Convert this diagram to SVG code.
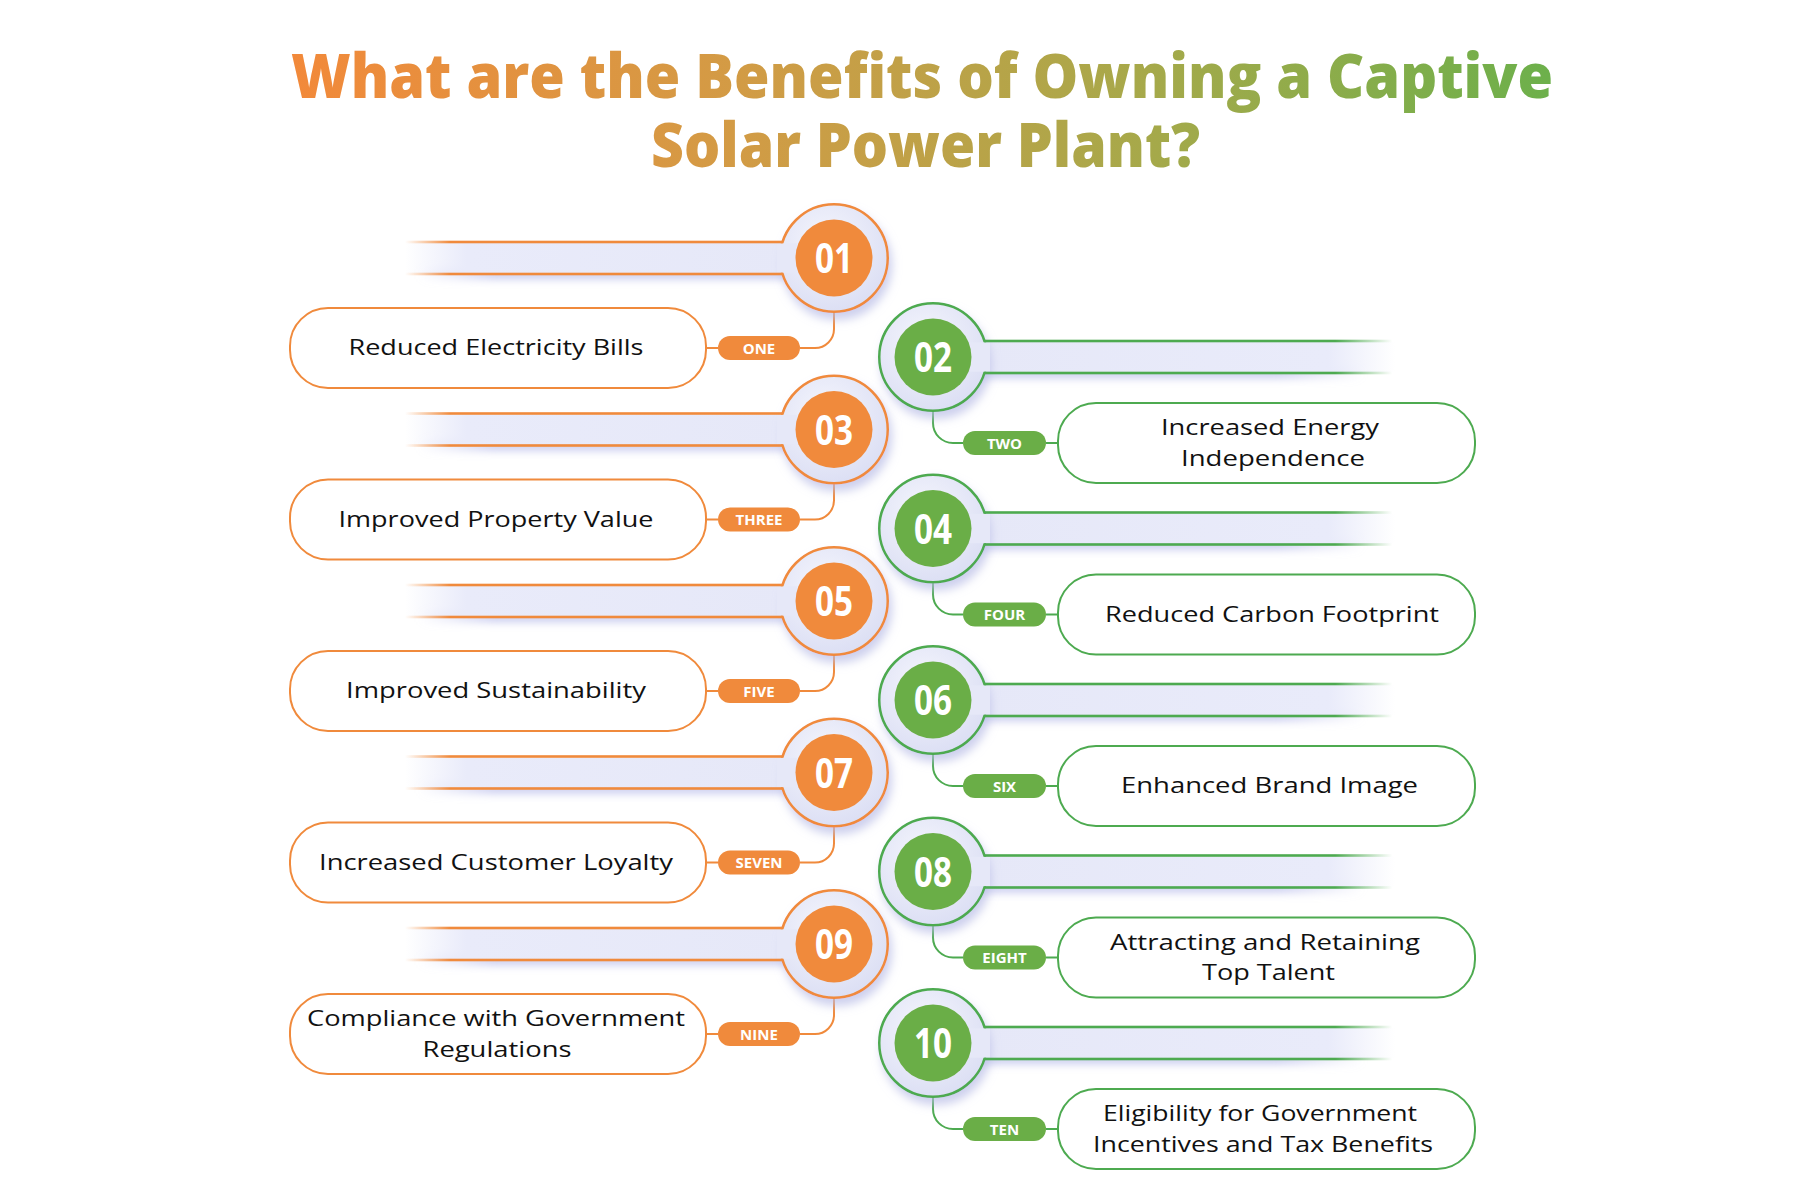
<svg xmlns="http://www.w3.org/2000/svg" width="1800" height="1200" viewBox="0 0 1800 1200">
<defs>
  <linearGradient id="titleGrad" gradientUnits="userSpaceOnUse" x1="291" y1="0" x2="1553" y2="0">
    <stop offset="0" stop-color="#F2893A"/>
    <stop offset="0.35" stop-color="#D39B45"/>
    <stop offset="0.68" stop-color="#A6A94A"/>
    <stop offset="1" stop-color="#6CB04B"/>
  </linearGradient>
  <linearGradient id="barFillL" x1="0" y1="0" x2="1" y2="0">
    <stop offset="0" stop-color="#E9EBFA" stop-opacity="0"/>
    <stop offset="0.16" stop-color="#E9EBFA" stop-opacity="1"/>
    <stop offset="1" stop-color="#E6E8F8"/>
  </linearGradient>
  <linearGradient id="barFillR" x1="1" y1="0" x2="0" y2="0">
    <stop offset="0" stop-color="#E9EBFA" stop-opacity="0"/>
    <stop offset="0.16" stop-color="#E9EBFA" stop-opacity="1"/>
    <stop offset="1" stop-color="#E6E8F8"/>
  </linearGradient>
  <linearGradient id="lineO" x1="0" y1="0" x2="1" y2="0">
    <stop offset="0" stop-color="#F08A3C" stop-opacity="0"/>
    <stop offset="0.12" stop-color="#F08A3C" stop-opacity="1"/>
  </linearGradient>
  <linearGradient id="lineG" x1="1" y1="0" x2="0" y2="0">
    <stop offset="0" stop-color="#4DAA50" stop-opacity="0"/>
    <stop offset="0.14" stop-color="#4DAA50" stop-opacity="1"/>
  </linearGradient>
  <linearGradient id="shadL" x1="0" y1="0" x2="1" y2="0">
    <stop offset="0" stop-color="#C3C6EE" stop-opacity="0"/>
    <stop offset="0.2" stop-color="#C3C6EE" stop-opacity="0.9"/>
  </linearGradient>
  <linearGradient id="shadR" x1="1" y1="0" x2="0" y2="0">
    <stop offset="0" stop-color="#C3C6EE" stop-opacity="0"/>
    <stop offset="0.2" stop-color="#C3C6EE" stop-opacity="0.9"/>
  </linearGradient>
  <radialGradient id="ringFill" cx="0.42" cy="0.36" r="0.65">
    <stop offset="0" stop-color="#F5F6FD"/>
    <stop offset="1" stop-color="#DCDFF4"/>
  </radialGradient>
  <filter id="blur" x="-20%" y="-200%" width="140%" height="500%">
    <feGaussianBlur stdDeviation="4"/>
  </filter>
  <filter id="ringShadow" x="-40%" y="-40%" width="180%" height="180%">
    <feDropShadow dx="3" dy="7" stdDeviation="5" flood-color="#B8BCE6" flood-opacity="0.7"/>
  </filter>
</defs>
<style>
  .title { font-family: "Open Sans", "Noto Sans", sans-serif; font-weight: 800; font-size: 62px; fill: url(#titleGrad); }
  .lbl { font-family: "Open Sans", "Noto Sans", sans-serif; font-size: 22px; fill: #111111; text-anchor: middle; }
  .num { font-family: "Open Sans", "Noto Sans", sans-serif; font-weight: 700; font-size: 41px; fill: #FFFFFF; text-anchor: middle; }
  .tagt { font-family: "Open Sans", "Noto Sans", sans-serif; font-weight: 700; font-size: 15px; fill: #FFFFFF; text-anchor: middle; }
  .ringO { fill: url(#ringFill); stroke: #F08A3C; stroke-width: 2.5; }
  .ringG { fill: url(#ringFill); stroke: #4DAA50; stroke-width: 2.5; }
  .innerO { fill: #F08A3C; }
  .innerG { fill: #6AAE47; }
  .boxO { fill: #FFFFFF; stroke: #F08A3C; stroke-width: 2; }
  .boxG { fill: #FFFFFF; stroke: #4DAA50; stroke-width: 2; }
  .tagO { fill: #F08A3C; }
  .tagG { fill: #6AAE47; }
  .patch { fill: #E6E8F8; }
  .conO { fill: none; stroke: #F08A3C; stroke-width: 2; }
  .conG { fill: none; stroke: #4DAA50; stroke-width: 2; }
</style>
<rect x="0" y="0" width="1800" height="1200" fill="#FFFFFF"/>

<g id="title">
  <text class="title" x="291" y="98" textLength="1262" lengthAdjust="spacingAndGlyphs">What are the Benefits of Owning a Captive</text>
  <text class="title" x="651" y="167" textLength="549" lengthAdjust="spacingAndGlyphs">Solar Power Plant?</text>
</g>

<!-- connectors -->
<g id="connectors">
  <path class="conO" d="M706,348 H718 M800,348 H815 A19,19 0 0 0 834,329 V312"/>
  <path class="conO" d="M706,519.5 H718 M800,519.5 H815 A19,19 0 0 0 834,500.5 V483.5"/>
  <path class="conO" d="M706,691 H718 M800,691 H815 A19,19 0 0 0 834,672 V655"/>
  <path class="conO" d="M706,862.5 H718 M800,862.5 H815 A19,19 0 0 0 834,843.5 V826.5"/>
  <path class="conO" d="M706,1034 H718 M800,1034 H815 A19,19 0 0 0 834,1015 V998"/>
  <path class="conG" d="M933,411 V423 A20,20 0 0 0 953,443 H963 M1046,443 H1058"/>
  <path class="conG" d="M933,582.5 V594.5 A20,20 0 0 0 953,614.5 H963 M1046,614.5 H1058"/>
  <path class="conG" d="M933,754 V766 A20,20 0 0 0 953,786 H963 M1046,786 H1058"/>
  <path class="conG" d="M933,925.5 V937.5 A20,20 0 0 0 953,957.5 H963 M1046,957.5 H1058"/>
  <path class="conG" d="M933,1097 V1109 A20,20 0 0 0 953,1129 H963 M1046,1129 H1058"/>
</g>

<!-- Left nodes -->
<g id="node-01">
  <rect x="420" y="269" width="370" height="10" fill="url(#shadL)" filter="url(#blur)"/>
  <rect x="405" y="243" width="385" height="30" fill="url(#barFillL)"/>
  <circle class="ringO" cx="834" cy="258" r="53.75" filter="url(#ringShadow)"/>
  <rect class="patch" x="777" y="243.3" width="20" height="29.4"/>
  <rect x="405" y="240.7" width="377.7" height="2.6" fill="url(#lineO)"/>
  <rect x="405" y="272.7" width="377.7" height="2.6" fill="url(#lineO)"/>
  <circle class="innerO" cx="834" cy="258" r="38.5"/>
  <text class="num" x="834" y="273" textLength="38" lengthAdjust="spacingAndGlyphs">01</text>
  <rect class="boxO" x="290" y="308" width="416" height="80" rx="38"/>
  <text class="lbl" x="496" y="355" textLength="295" lengthAdjust="spacingAndGlyphs">Reduced Electricity Bills</text>
  <rect class="tagO" x="718" y="336" width="82" height="24" rx="12"/>
  <text class="tagt" x="759" y="353.5">ONE</text>
</g>

<g id="node-03">
  <rect x="420" y="440.5" width="370" height="10" fill="url(#shadL)" filter="url(#blur)"/>
  <rect x="405" y="414.5" width="385" height="30" fill="url(#barFillL)"/>
  <circle class="ringO" cx="834" cy="429.5" r="53.75" filter="url(#ringShadow)"/>
  <rect class="patch" x="777" y="414.8" width="20" height="29.4"/>
  <rect x="405" y="412.2" width="377.7" height="2.6" fill="url(#lineO)"/>
  <rect x="405" y="444.2" width="377.7" height="2.6" fill="url(#lineO)"/>
  <circle class="innerO" cx="834" cy="429.5" r="38.5"/>
  <text class="num" x="834" y="444.5" textLength="38" lengthAdjust="spacingAndGlyphs">03</text>
  <rect class="boxO" x="290" y="479.5" width="416" height="80" rx="38"/>
  <text class="lbl" x="496" y="526.5" textLength="315" lengthAdjust="spacingAndGlyphs">Improved Property Value</text>
  <rect class="tagO" x="718" y="507.5" width="82" height="24" rx="12"/>
  <text class="tagt" x="759" y="525">THREE</text>
</g>

<g id="node-05">
  <rect x="420" y="612" width="370" height="10" fill="url(#shadL)" filter="url(#blur)"/>
  <rect x="405" y="586" width="385" height="30" fill="url(#barFillL)"/>
  <circle class="ringO" cx="834" cy="601" r="53.75" filter="url(#ringShadow)"/>
  <rect class="patch" x="777" y="586.3" width="20" height="29.4"/>
  <rect x="405" y="583.7" width="377.7" height="2.6" fill="url(#lineO)"/>
  <rect x="405" y="615.7" width="377.7" height="2.6" fill="url(#lineO)"/>
  <circle class="innerO" cx="834" cy="601" r="38.5"/>
  <text class="num" x="834" y="616" textLength="38" lengthAdjust="spacingAndGlyphs">05</text>
  <rect class="boxO" x="290" y="651" width="416" height="80" rx="38"/>
  <text class="lbl" x="496" y="698" textLength="300" lengthAdjust="spacingAndGlyphs">Improved Sustainability</text>
  <rect class="tagO" x="718" y="679" width="82" height="24" rx="12"/>
  <text class="tagt" x="759" y="696.5">FIVE</text>
</g>

<g id="node-07">
  <rect x="420" y="783.5" width="370" height="10" fill="url(#shadL)" filter="url(#blur)"/>
  <rect x="405" y="757.5" width="385" height="30" fill="url(#barFillL)"/>
  <circle class="ringO" cx="834" cy="772.5" r="53.75" filter="url(#ringShadow)"/>
  <rect class="patch" x="777" y="757.8" width="20" height="29.4"/>
  <rect x="405" y="755.2" width="377.7" height="2.6" fill="url(#lineO)"/>
  <rect x="405" y="787.2" width="377.7" height="2.6" fill="url(#lineO)"/>
  <circle class="innerO" cx="834" cy="772.5" r="38.5"/>
  <text class="num" x="834" y="787.5" textLength="38" lengthAdjust="spacingAndGlyphs">07</text>
  <rect class="boxO" x="290" y="822.5" width="416" height="80" rx="38"/>
  <text class="lbl" x="496" y="869.5" textLength="354" lengthAdjust="spacingAndGlyphs">Increased Customer Loyalty</text>
  <rect class="tagO" x="718" y="850.5" width="82" height="24" rx="12"/>
  <text class="tagt" x="759" y="868">SEVEN</text>
</g>

<g id="node-09">
  <rect x="420" y="955" width="370" height="10" fill="url(#shadL)" filter="url(#blur)"/>
  <rect x="405" y="929" width="385" height="30" fill="url(#barFillL)"/>
  <circle class="ringO" cx="834" cy="944" r="53.75" filter="url(#ringShadow)"/>
  <rect class="patch" x="777" y="929.3" width="20" height="29.4"/>
  <rect x="405" y="926.7" width="377.7" height="2.6" fill="url(#lineO)"/>
  <rect x="405" y="958.7" width="377.7" height="2.6" fill="url(#lineO)"/>
  <circle class="innerO" cx="834" cy="944" r="38.5"/>
  <text class="num" x="834" y="959" textLength="38" lengthAdjust="spacingAndGlyphs">09</text>
  <rect class="boxO" x="290" y="994" width="416" height="80" rx="38"/>
  <text class="lbl" x="496" y="1026" textLength="378" lengthAdjust="spacingAndGlyphs">Compliance with Government</text>
  <text class="lbl" x="497" y="1056.5" textLength="149" lengthAdjust="spacingAndGlyphs">Regulations</text>
  <rect class="tagO" x="718" y="1022" width="82" height="24" rx="12"/>
  <text class="tagt" x="759" y="1039.5">NINE</text>
</g>

<!-- Right nodes -->
<g id="node-02">
  <rect x="943" y="368" width="420" height="10" fill="url(#shadR)" filter="url(#blur)"/>
  <rect x="978" y="342" width="417" height="30" fill="url(#barFillR)"/>
  <circle class="ringG" cx="933" cy="357" r="53.75" filter="url(#ringShadow)"/>
  <rect class="patch" x="970" y="342.3" width="20" height="29.4"/>
  <rect x="984.3" y="339.7" width="408" height="2.6" fill="url(#lineG)"/>
  <rect x="984.3" y="371.7" width="408" height="2.6" fill="url(#lineG)"/>
  <circle class="innerG" cx="933" cy="357" r="38.5"/>
  <text class="num" x="933" y="372" textLength="38" lengthAdjust="spacingAndGlyphs">02</text>
  <rect class="boxG" x="1058" y="403" width="417" height="80" rx="38"/>
  <text class="lbl" x="1270" y="435" textLength="218" lengthAdjust="spacingAndGlyphs">Increased Energy</text>
  <text class="lbl" x="1273" y="465.5" textLength="184" lengthAdjust="spacingAndGlyphs">Independence</text>
  <rect class="tagG" x="963" y="431" width="83" height="24" rx="12"/>
  <text class="tagt" x="1004.5" y="448.5">TWO</text>
</g>

<g id="node-04">
  <rect x="943" y="539.5" width="420" height="10" fill="url(#shadR)" filter="url(#blur)"/>
  <rect x="978" y="513.5" width="417" height="30" fill="url(#barFillR)"/>
  <circle class="ringG" cx="933" cy="528.5" r="53.75" filter="url(#ringShadow)"/>
  <rect class="patch" x="970" y="513.8" width="20" height="29.4"/>
  <rect x="984.3" y="511.2" width="408" height="2.6" fill="url(#lineG)"/>
  <rect x="984.3" y="543.2" width="408" height="2.6" fill="url(#lineG)"/>
  <circle class="innerG" cx="933" cy="528.5" r="38.5"/>
  <text class="num" x="933" y="543.5" textLength="38" lengthAdjust="spacingAndGlyphs">04</text>
  <rect class="boxG" x="1058" y="574.5" width="417" height="80" rx="38"/>
  <text class="lbl" x="1272" y="621.5" textLength="334" lengthAdjust="spacingAndGlyphs">Reduced Carbon Footprint</text>
  <rect class="tagG" x="963" y="602.5" width="83" height="24" rx="12"/>
  <text class="tagt" x="1004.5" y="620">FOUR</text>
</g>

<g id="node-06">
  <rect x="943" y="711" width="420" height="10" fill="url(#shadR)" filter="url(#blur)"/>
  <rect x="978" y="685" width="417" height="30" fill="url(#barFillR)"/>
  <circle class="ringG" cx="933" cy="700" r="53.75" filter="url(#ringShadow)"/>
  <rect class="patch" x="970" y="685.3" width="20" height="29.4"/>
  <rect x="984.3" y="682.7" width="408" height="2.6" fill="url(#lineG)"/>
  <rect x="984.3" y="714.7" width="408" height="2.6" fill="url(#lineG)"/>
  <circle class="innerG" cx="933" cy="700" r="38.5"/>
  <text class="num" x="933" y="715" textLength="38" lengthAdjust="spacingAndGlyphs">06</text>
  <rect class="boxG" x="1058" y="746" width="417" height="80" rx="38"/>
  <text class="lbl" x="1269.5" y="793" textLength="297" lengthAdjust="spacingAndGlyphs">Enhanced Brand Image</text>
  <rect class="tagG" x="963" y="774" width="83" height="24" rx="12"/>
  <text class="tagt" x="1004.5" y="791.5">SIX</text>
</g>

<g id="node-08">
  <rect x="943" y="882.5" width="420" height="10" fill="url(#shadR)" filter="url(#blur)"/>
  <rect x="978" y="856.5" width="417" height="30" fill="url(#barFillR)"/>
  <circle class="ringG" cx="933" cy="871.5" r="53.75" filter="url(#ringShadow)"/>
  <rect class="patch" x="970" y="856.8" width="20" height="29.4"/>
  <rect x="984.3" y="854.2" width="408" height="2.6" fill="url(#lineG)"/>
  <rect x="984.3" y="886.2" width="408" height="2.6" fill="url(#lineG)"/>
  <circle class="innerG" cx="933" cy="871.5" r="38.5"/>
  <text class="num" x="933" y="886.5" textLength="38" lengthAdjust="spacingAndGlyphs">08</text>
  <rect class="boxG" x="1058" y="917.5" width="417" height="80" rx="38"/>
  <text class="lbl" x="1265" y="949.5" textLength="310" lengthAdjust="spacingAndGlyphs">Attracting and Retaining</text>
  <text class="lbl" x="1268.5" y="980" textLength="133" lengthAdjust="spacingAndGlyphs">Top Talent</text>
  <rect class="tagG" x="963" y="945.5" width="83" height="24" rx="12"/>
  <text class="tagt" x="1004.5" y="963">EIGHT</text>
</g>

<g id="node-10">
  <rect x="943" y="1054" width="420" height="10" fill="url(#shadR)" filter="url(#blur)"/>
  <rect x="978" y="1028" width="417" height="30" fill="url(#barFillR)"/>
  <circle class="ringG" cx="933" cy="1043" r="53.75" filter="url(#ringShadow)"/>
  <rect class="patch" x="970" y="1028.3" width="20" height="29.4"/>
  <rect x="984.3" y="1025.7" width="408" height="2.6" fill="url(#lineG)"/>
  <rect x="984.3" y="1057.7" width="408" height="2.6" fill="url(#lineG)"/>
  <circle class="innerG" cx="933" cy="1043" r="38.5"/>
  <text class="num" x="933" y="1058" textLength="38" lengthAdjust="spacingAndGlyphs">10</text>
  <rect class="boxG" x="1058" y="1089" width="417" height="80" rx="38"/>
  <text class="lbl" x="1260" y="1121" textLength="314" lengthAdjust="spacingAndGlyphs">Eligibility for Government</text>
  <text class="lbl" x="1263" y="1151.5" textLength="340" lengthAdjust="spacingAndGlyphs">Incentives and Tax Benefits</text>
  <rect class="tagG" x="963" y="1117" width="83" height="24" rx="12"/>
  <text class="tagt" x="1004.5" y="1134.5">TEN</text>
</g>
</svg>
